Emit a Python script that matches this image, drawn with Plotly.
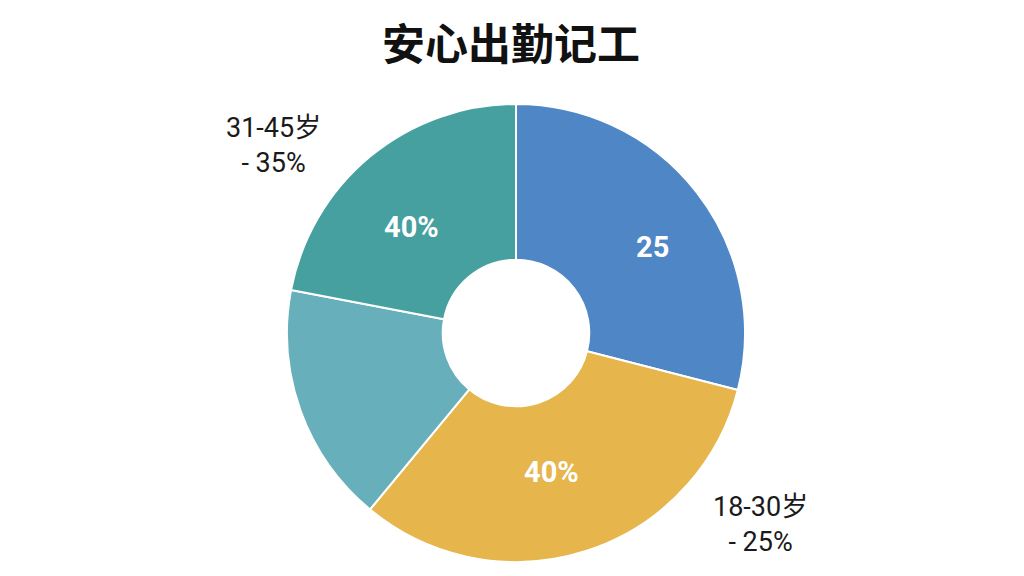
import plotly.graph_objects as go

title = "安心出勤记工"
categories = ["蓝", "黄", "浅青", "青"]
values = [29, 32, 17, 22]
inside_text = ["25", "40%", "", "40%"]
colors = ["#4F86C6", "#E6B54B", "#67AFBA", "#46A09F"]
outside_labels = ["31-45岁<br>- 35%", "18-30岁<br>- 25%"]

W, H = 1024, 576
ML, MR, MT, MB = 0, 8, 96, 22

fig = go.Figure(go.Pie(
    labels=categories,
    values=values,
    textinfo="none",
    hole=0.32,
    sort=False,
    direction="clockwise",
    rotation=0,
    marker=dict(colors=colors, line=dict(color="white", width=2)),
    showlegend=False,
    hoverinfo="label+value",
))

pw = W - ML - MR
ph = H - MT - MB

def to_paper(px, py):
    return (px - ML) / pw, (H - MB - py) / ph

ann = []
# slice labels (positions in figure pixels)
for txt, (px, py) in zip(inside_text, [(644, 239), (543, 464), (0, 0), (403, 219)]):
    if not txt:
        continue
    x, y = to_paper(px, py)
    ann.append(dict(text=txt, x=x, y=y, xref="paper", yref="paper", showarrow=False,
                    xanchor="center", yanchor="middle",
                    font=dict(family="Roboto, DejaVu Sans", size=29, color="white", weight="bold")))
for lbl, (px, py) in zip(outside_labels, [(265, 137), (752, 516)]):
    x, y = to_paper(px, py)
    ann.append(dict(text=lbl, x=x, y=y, xref="paper", yref="paper", showarrow=False,
                    xanchor="center", yanchor="middle", align="center",
                    font=dict(family="Roboto, Noto Sans CJK SC", size=27, color="#1a1a1a")))

# title as annotation
tx, ty = to_paper(503, 33)
ann.append(dict(text=title, x=tx, y=ty, xref="paper", yref="paper", showarrow=False,
                xanchor="center", yanchor="middle",
                font=dict(family="Noto Sans CJK SC", size=43, color="#111111", weight="bold")))

fig.update_layout(
    width=W, height=H,
    paper_bgcolor="white", plot_bgcolor="white",
    margin=dict(l=ML, r=MR, t=MT, b=MB),
    annotations=ann,
)

fig.write_html("out.html")
